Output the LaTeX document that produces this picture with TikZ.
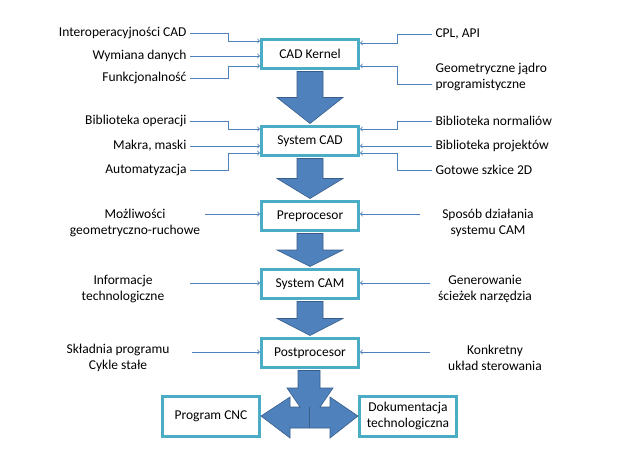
\documentclass[tikz,border=0pt]{standalone}
\usepackage{fontspec}
\setmainfont{Carlito}
\usetikzlibrary{arrows}
\usetikzlibrary{calc}

\definecolor{boxline}{RGB}{75,172,198}
\definecolor{arrowfill}{RGB}{79,129,189}
\definecolor{arrowline}{RGB}{56,93,138}

\tikzset{
  stage/.style={draw=boxline, line width=3pt, fill=white, minimum width=97pt, minimum height=29pt, inner sep=2pt},
  feed/.style={->, draw=arrowfill, line width=0.9pt},
  blk/.style={fill=arrowfill, draw=arrowline, line width=0.6pt},
  lbl/.style={align=center, font=\fontsize{13.5}{16}\selectfont}
}

\begin{document}
\begin{tikzpicture}[x=1pt, y=-1pt]
        \useasboundingbox (0, 0) rectangle (628, 471);

        \draw (310, 54) node[stage, lbl] (kernel) {CAD Kernel};
        \draw (310, 141) node[stage, lbl] (cad) {System CAD};
        \draw (310, 216) node[stage, lbl] (pre) {Preprocesor};
        \draw (310, 284) node[stage, lbl] (cam) {System CAM};
        \draw (310, 353) node[stage, lbl] (post) {Postprocesor};
        \draw (211, 416) node[stage, lbl, minimum height=40pt] (cnc) {Program CNC};
        \draw (408, 416) node[stage, lbl, minimum height=40pt] (doc) {Dokumentacja\\technologiczna};

        % inputs of the kernel
        \draw (190, 33) node[lbl, anchor=east] (k1) {Interoperacyjności CAD};
        \draw (190, 56) node[lbl, anchor=east] (k2) {Wymiana danych};
        \draw (190, 78) node[lbl, anchor=east] (k3) {Funkcjonalność};
        \draw (432, 34) node[lbl, anchor=west] (k4) {CPL, API};
        \draw (432, 77) node[lbl, anchor=west, align=left] (k5) {Geometryczne jądro\\programistyczne};

        \draw[feed] (k1.east) -| (228, 41) -- (kernel.west |- 0, 41);
        \draw[feed] (k2.east) -- (kernel.west |- k2);
        \draw[feed] (k3.east) -| (228, 66) -- (kernel.west |- 0, 66);
        \draw[feed] (k4.west) -| (397, 43) -- (kernel.east |- 0, 43);
        \draw[feed] (k5.west |- 0, 84) -| (397, 66) -- (kernel.east |- 0, 66);

        % inputs of the CAD system
        \draw (190, 121) node[lbl, anchor=east] (c1) {Biblioteka operacji};
        \draw (190, 146) node[lbl, anchor=east] (c2) {Makra, maski};
        \draw (190, 170) node[lbl, anchor=east] (c3) {Automatyzacja};
        \draw (432, 121) node[lbl, anchor=west] (c4) {Biblioteka normaliów};
        \draw (432, 146) node[lbl, anchor=west] (c5) {Biblioteka projektów};
        \draw (432, 170) node[lbl, anchor=west] (c6) {Gotowe szkice 2D};

        \draw[feed] (c1.east) -| (228, 129) -- (cad.west |- 0, 129);
        \draw[feed] (c2.east) -- (cad.west |- c2);
        \draw[feed] (c3.east) -| (228, 153) -- (cad.west |- 0, 153);
        \draw[feed] (c4.west) -| (397, 129) -- (cad.east |- 0, 129);
        \draw[feed] (c5.west) -- (cad.east |- c5);
        \draw[feed] (c6.west) -| (397, 153) -- (cad.east |- 0, 153);

        % side inputs further down
        \draw (135, 223) node[lbl] (p1) {Możliwości\\geometryczno-ruchowe};
        \draw (488, 223) node[lbl] (p2) {Sposób działania\\systemu CAM};
        \draw (123, 289) node[lbl] (m1) {Informacje\\technologiczne};
        \draw (485, 289) node[lbl] (m2) {Generowanie\\ścieżek narzędzia};
        \draw (118, 358) node[lbl] (s1) {Składnia programu\\Cykle stałe};
        \draw (495, 358) node[lbl] (s2) {Konkretny\\układ sterowania};

        \draw[feed] (205, 214) coordinate (p1e) -- (pre.west |- p1e);
        \draw[feed] (420, 214) coordinate (p2e) -- (pre.east |- p2e);
        \draw[feed] (190, 283) coordinate (m1e) -- (cam.west |- m1e);
        \draw[feed] (430, 283) coordinate (m2e) -- (cam.east |- m2e);
        \draw[feed] (192, 352) coordinate (s1e) -- (post.west |- s1e);
        \draw[feed] (430, 352) coordinate (s2e) -- (post.east |- s2e);

        % block arrows between the stages
        \foreach \a/\b in {kernel/cad, cad/pre, pre/cam, cam/post} {
            \draw[blk] ($(\a.south)+(-13, 1.5)$) -- ($(\a.south)+(13, 1.5)$)
                |- ($(\b.north)!0.5!(\a.south)+(33, 0)$) -- ($(\b.north)+(0, -1.5)$)
                -- ($(\b.north)!0.5!(\a.south)+(-33, 0)$) -| cycle;
        }
        \draw[blk] ($(post.south)+(-12, 1.5)$) -- ($(post.south)+(10, 1.5)$) -- (320, 388) -- (333, 388)
            -- (320, 407) -- (330, 407) -- (330, 397) -- (cnc.east -| doc.west) -- (330, 438) -- (330, 428)
            -- (290, 428) -- (290, 438) -- (cnc.east) -- (290, 397) -- (290, 407) -- (300, 407)
            -- (287, 388) -- (298, 388) -- cycle;
        \draw[arrowline, line width=0.6pt] (309, 407) -- (309, 428);
    \end{tikzpicture}
\end{document}
